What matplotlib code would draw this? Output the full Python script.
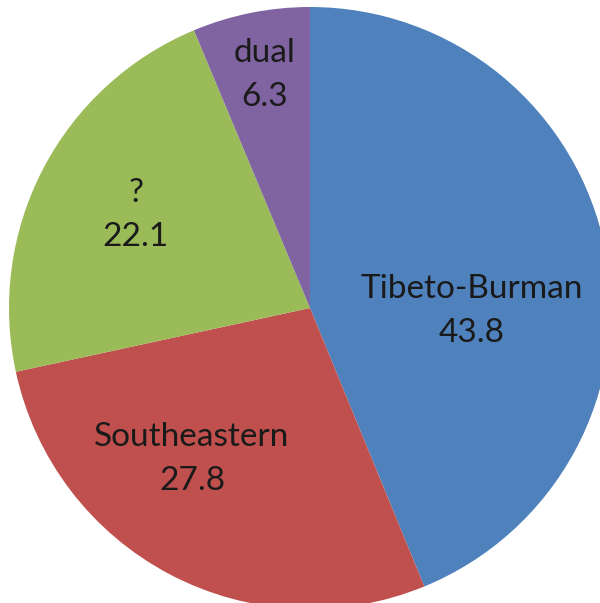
import matplotlib.pyplot as plt

groups = ["Tibeto-Burman", "Southeastern", "?", "dual"]
shares = [43.8, 27.8, 22.1, 6.3]
colors = ["#4F81BD", "#C0504D", "#9BBB59", "#8064A2"]

# label centres in pixel coords (x, y from top)
label_pos = [(472, 311), (192, 459), (136, 215), (265, 75)]

W, H = 600, 603
fig = plt.figure(figsize=(W / 100, H / 100), dpi=100)
ax = fig.add_axes([0, 0, 1, 1])

ax.pie(shares, colors=colors, startangle=90, counterclock=False,
       center=(310, H - 308), radius=301,
       wedgeprops=dict(linewidth=0))

for name, val, (x, y) in zip(groups, shares, label_pos):
    ax.text(x, H - y, f"{name}\n{val}", ha="center", va="center",
            fontsize=24, family="Lato", color="#1a1a1a", linespacing=1.6)

ax.set_xlim(0, W)
ax.set_ylim(0, H)
ax.set_aspect("equal")
ax.axis("off")

fig.savefig("out.png", dpi=100)
